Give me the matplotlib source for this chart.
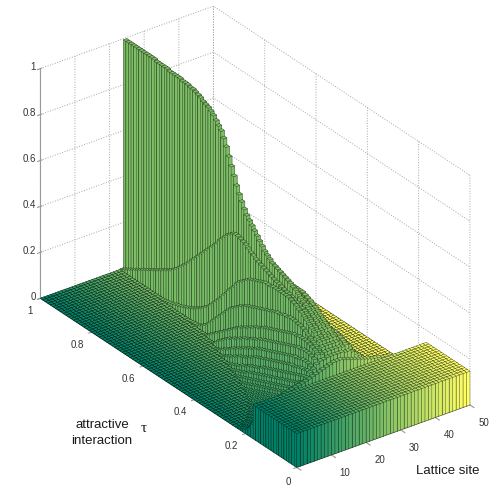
"""
plot.py - occupation per lattice site against attractive interaction tau, as 3-D bars.
"""

import matplotlib
matplotlib.use("Agg")
import matplotlib.pyplot as plt

plt.rcParams["font.family"] = ["Liberation Sans", "DejaVu Sans"]

# ---------- Data ----------
# one list per distance from the centre site (25); entries run from tau=1 downward
# in steps of 0.01

d_0 = [.995, .995, .995, .995, .995, .995, .995, .995, .995, .995,
       .995, .995, .99, .99, .99, .99, .99, .985, .985, .985,
       .985, .985, .98, .98, .98, .975, .975, .97, .965, .96,
       .95, .945, .94, .93, .92, .905, .89, .875, .85, .82,
       .785, .75, .715, .68, .65, .625, .60, .58, .565, .55,
       .535, .52, .505, .49, .475, .465, .455, .445, .44, .435,
       .43, .425, .42, .415, .41, .40, .395, .385, .375, .365,
       .36, .35, .34, .33, .32, .31, .295, .285, .27, .255,
       .24, .225, .205]
d_1 = [.003, .01, .017, .024, .031, .038, .045, .052, .06, .067,
       .074, .081, .088, .095, .102, .11, .117, .125, .132, .14,
       .15, .16, .172, .185, .198, .21, .225, .24, .255, .27,
       .285, .30, .315, .33, .345, .36, .375, .39, .41, .425,
       .44, .455, .465, .475, .48, .48, .475, .47, .465, .455,
       .445, .44, .43, .425, .42, .415, .41, .405, .40, .395,
       .39, .39, .385, .38, .375, .375, .37, .365, .36, .355,
       .35, .345, .335, .325, .315, .305, .295, .28, .27, .255,
       .24, .225, .205]
d_2 = [0.0] * 17 + [.002, .004, .007,
                    .01, .013, .017, .021, .025, .03, .035, .04, .046, .052,
                    .06, .067, .075, .085, .095, .105, .12, .135, .15, .165,
                    .18, .20, .215, .235, .25, .265, .285, .30, .31, .32,
                    .33, .34, .345, .35, .355, .36, .365, .37, .37, .37,
                    .375, .375, .375, .375, .375, .375, .375, .37, .365, .36,
                    .35, .345, .335, .325, .315, .305, .295, .28, .27, .255,
                    .24, .225, .20]
d_3 = [0.0] * 29 + [.002,
                    .004, .006, .008, .012, .02, .03, .04, .055, .07, .085,
                    .10, .115, .13, .145, .16, .175, .185, .195, .205, .215,
                    .22, .23, .235, .24, .245, .25, .255, .26, .265, .27,
                    .275, .28, .285, .29, .29, .295, .30, .30, .305, .305,
                    .305, .30, .30, .295, .29, .28, .275, .265, .255, .245,
                    .235, .22, .195]
d_4 = [0.0] * 37 + [.005, .015, .025,
                    .035, .045, .055, .065, .075, .085, .095, .105, .115, .125,
                    .135, .14, .15, .155, .165, .17, .18, .185, .19, .20,
                    .205, .21, .215, .22, .225, .23, .235, .24, .245, .25,
                    .255, .26, .26, .265, .265, .265, .265, .26, .255, .25,
                    .24, .22, .19]
d_5 = [0.0] * 41 + [.005, .015, .03, .04, .05, .06, .07, .075, .085,
                    .09, .10, .105, .115, .12, .125, .135, .14, .145, .155,
                    .16, .165, .17, .175, .18, .185, .19, .195, .20, .205,
                    .21, .215, .22, .225, .23, .23, .235, .235, .235, .23,
                    .225, .21, .185]
d_6 = [0.0] * 44 + [.005, .012, .02, .03, .035, .045,
                    .055, .06, .07, .075, .085, .09, .10, .105, .11, .12,
                    .125, .13, .135, .14, .145, .15, .155, .16, .165, .17,
                    .175, .18, .185, .19, .195, .195, .20, .205, .205, .205,
                    .20, .195, .18]
d_7 = [0.0] * 47 + [.005, .01, .018,
                    .025, .03, .04, .045, .055, .06, .065, .07, .08, .085,
                    .095, .10, .105, .11, .115, .12, .125, .13, .135, .14,
                    .145, .15, .155, .16, .165, .165, .17, .175, .18, .18,
                    .185, .185, .175]
d_8 = [0.0] * 51 + [.005, .01, .015, .02, .025, .035, .04, .045, .055,
                    .06, .065, .07, .075, .085, .09, .095, .10, .105, .11,
                    .115, .12, .125, .13, .135, .14, .145, .15, .155, .16,
                    .165, .168, .17]
d_9 = [0.0] * 54 + [.005, .01, .015, .02, .025, .03,
                    .04, .045, .05, .055, .06, .065, .07, .075, .08, .085,
                    .09, .095, .10, .105, .11, .115, .12, .125, .13, .135,
                    .145, .155, .165]
d_10 = [0.0] * 57 + [.005, .01, .015,
                     .02, .025, .03, .035, .04, .045, .05, .055, .06, .065,
                     .07, .075, .08, .085, .09, .095, .10, .105, .11, .12,
                     .13, .145, .16]
d_11 = [0.0] * 60 + [.005, .01, .015, .02, .025, .03, .035, .04, .045, .05,
                     .055, .06, .065, .07, .075, .08, .085, .09, .095, .105,
                     .115, .135, .158]
d_12 = [0.0] * 63 + [.005, .01, .015, .02, .025, .03, .035,
                     .04, .045, .05, .055, .06, .065, .07, .075, .085, .09,
                     .105, .125, .155]
d_13 = [0.0] * 65 + [.005, .01, .015, .02, .025,
                     .03, .035, .04, .045, .05, .055, .06, .07, .075, .085,
                     .095, .12, .15]
d_14 = [0.0] * 67 + [.005, .01, .015,
                     .02, .025, .03, .035, .04, .045, .05, .06, .065, .075,
                     .09, .115, .148]
d_15 = [0.0] * 69 + [.005,
                     .01, .015, .02, .025, .03, .035, .04, .05, .055, .065,
                     .08, .105, .145]
d_16 = [0.0] * 70 + [.005, .01, .015, .02, .025, .03, .035, .04, .045, .055,
                     .07, .095, .14]
d_17 = [0.0] * 72 + [.005, .01, .015, .02, .025, .03, .04, .045, .06, .09, .13]
d_18 = [0.0] * 73 + [.005, .01, .015, .02, .025, .03, .04, .055, .08, .12]
d_19 = [0.0] * 74 + [.005, .01, .015, .02, .025, .035, .05, .07, .11]
d_20 = [0.0] * 75 + [.005, .01, .015, .02, .03, .04, .065, .10]
d_21 = [0.0] * 76 + [.005, .01, .015, .025, .035, .06, .09]
d_22 = [0.0] * 76 + [.005, .01, .015, .02, .03, .05, .08]
d_23 = [0.0] * 77 + [.005, .01, .015, .025, .04, .07]
d_24 = [0.0] * 77 + [.005, .01, .015, .02, .035, .06]

# rows close to tau=0 are flat across all sites
flat_level = 0.147
n_flat_rows = 17

z_ticks = [0, 0.2, 0.4, 0.6, 0.8, 1]
z_labels = ["0", "0.2", "0.4", "0.6", "0.8", "1"]
tau_ticks = [0, 0.2, 0.4, 0.6, 0.8, 1]
tau_labels = ["", "0.2", "0.4", "0.6", "0.8", "1"]
site_ticks = [0, 10, 20, 30, 40, 50]
site_labels = ["", "10", "20", "30", "40", "50"]

columns = [d_0, d_1, d_2, d_3, d_4, d_5, d_6, d_7, d_8, d_9, d_10, d_11, d_12,
           d_13, d_14, d_15, d_16, d_17, d_18, d_19, d_20, d_21, d_22, d_23, d_24]
n_rows = len(d_0) + n_flat_rows
n_sites = 50


def height(site, row):
    if row >= len(d_0):
        return flat_level
    dist = min(abs(site - 25), 24)
    return columns[dist][row]


# ---------- Plot ----------

fig = plt.figure(figsize=(4.94, 4.91), dpi=100)
ax = fig.add_axes([0.006, 0.0045, 0.994, 0.9996], projection="3d",
                  proj_type="ortho", computed_zorder=False)
ax.view_init(elev=29.2, azim=233.5)
ax.set_box_aspect((216.6, 433.6, 264.6), zoom=1.086)

cmap = plt.get_cmap("summer")
order = 10
for row in range(n_rows):  # back to front
    y0 = 1 - (row + 1) / n_rows
    for site in range(n_sites, 0, -1):
        bar = ax.bar3d(site - 1, y0, 0, 1, 1 / n_rows, height(site, row),
                       color=cmap((site - 1) / (n_sites - 1)), shade=False,
                       edgecolor=(0, 0, 0, 0.5), linewidth=0.3)
        bar.set_zorder(order)
        order += 1

ax.set_xlim(0, 50, view_margin=0)
ax.set_ylim(0, 1, view_margin=0)
ax.set_zlim(0, 1, view_margin=0)
ax.set_xticks(site_ticks)
ax.set_xticklabels(site_labels)
ax.set_yticks(tau_ticks)
ax.set_yticklabels(tau_labels)
ax.set_zticks(z_ticks)
ax.set_zticklabels(z_labels)
ax.tick_params(labelsize=7, labelcolor="0.2", color="0.6")
ax.tick_params(axis="x", pad=-2)
ax.tick_params(axis="y", pad=0)
ax.tick_params(axis="z", pad=-6)

for label in ax.get_xticklabels():
    label.set_horizontalalignment("left")
for label in ax.get_yticklabels():
    label.set_horizontalalignment("right")
    label.set_verticalalignment("center")
for label in ax.get_zticklabels():
    label.set_horizontalalignment("right")
    label.set_verticalalignment("center")

for axis in (ax.xaxis, ax.yaxis, ax.zaxis):
    axis.pane.fill = False
    axis.pane.set_edgecolor("none")
    axis.line.set_color("0.6")
    axis._axinfo["grid"].update(color="0.65", linestyle=":", linewidth=0.7)
    axis._axinfo["tick"].update(color="0.6")

fig.text(288 / 494, 1 - 482 / 491, "0", fontsize=7, ha="center", va="center", color="0.2")
fig.text(102 / 494, 1 - 433 / 491, "attractive\ninteraction", fontsize=9.5,
         ha="center", va="center", color="0.1", linespacing=1.35)
fig.text(144 / 494, 1 - 428 / 491, "\u03c4", fontsize=11, ha="center", va="center",
         family="Liberation Serif", color="0.1")
fig.text(448 / 494, 1 - 471 / 491, "Lattice site", fontsize=9.5,
         ha="center", va="center", color="0.1")

fig.savefig("out.png", dpi=100)
